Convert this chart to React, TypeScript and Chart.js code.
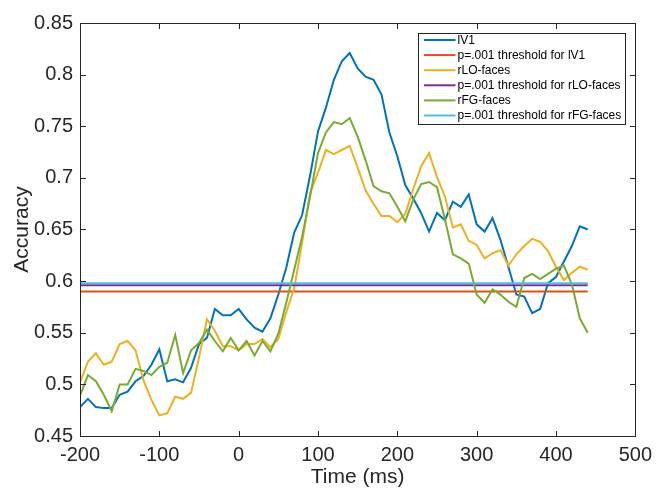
import React, { useEffect, useRef } from 'react';
import { Chart, registerables } from 'chart.js';

Chart.register(...registerables);

// Time (ms)
const times = [
  -200, -190, -180, -170, -160, -150, -140, -130, -120, -110,
  -100, -90, -80, -70, -60, -50, -40, -30, -20, -10,
  0, 10, 20, 30, 40, 50, 60, 70, 80, 90,
  100, 110, 120, 130, 140, 150, 160, 170, 180, 190,
  200, 210, 220, 230, 240, 250, 260, 270, 280, 290,
  300, 310, 320, 330, 340, 350, 360, 370, 380, 390,
  400, 410, 420, 430, 440,
];

const lV1 = [
  0.478, 0.486, 0.478, 0.477, 0.477, 0.490, 0.493, 0.503, 0.508, 0.519,
  0.534, 0.503, 0.505, 0.502, 0.516, 0.539, 0.545, 0.573, 0.567, 0.567,
  0.573, 0.563, 0.555, 0.551, 0.564, 0.587, 0.613, 0.647, 0.664, 0.702,
  0.745, 0.768, 0.795, 0.813, 0.821, 0.806, 0.798, 0.795, 0.781, 0.744,
  0.721, 0.693, 0.680, 0.666, 0.648, 0.666, 0.659, 0.677, 0.672, 0.684,
  0.655, 0.648, 0.661, 0.640, 0.614, 0.587, 0.585, 0.569, 0.573, 0.598,
  0.604, 0.619, 0.634, 0.653, 0.650,
];

const rLOfaces = [
  0.502, 0.522, 0.530, 0.519, 0.522, 0.539, 0.542, 0.533, 0.504, 0.485,
  0.470, 0.472, 0.488, 0.486, 0.492, 0.526, 0.563, 0.552, 0.537, 0.537,
  0.533, 0.539, 0.539, 0.544, 0.536, 0.544, 0.570, 0.593, 0.637, 0.685,
  0.705, 0.727, 0.723, 0.727, 0.731, 0.710, 0.688, 0.675, 0.663, 0.663,
  0.657, 0.665, 0.689, 0.711, 0.724, 0.701, 0.682, 0.652, 0.655, 0.639,
  0.635, 0.622, 0.627, 0.630, 0.615, 0.626, 0.634, 0.641, 0.638, 0.629,
  0.614, 0.601, 0.608, 0.614, 0.611,
];

const rFGfaces = [
  0.489, 0.509, 0.503, 0.490, 0.474, 0.500, 0.500, 0.515, 0.513, 0.509,
  0.517, 0.521, 0.548, 0.511, 0.533, 0.540, 0.553, 0.542, 0.532, 0.545,
  0.533, 0.542, 0.528, 0.542, 0.532, 0.549, 0.579, 0.611, 0.643, 0.682,
  0.724, 0.744, 0.754, 0.752, 0.758, 0.740, 0.717, 0.692, 0.687, 0.685,
  0.672, 0.658, 0.679, 0.694, 0.696, 0.691, 0.660, 0.626, 0.622, 0.617,
  0.587, 0.579, 0.592, 0.587, 0.580, 0.575, 0.603, 0.607, 0.602, 0.607,
  0.612, 0.615, 0.597, 0.564, 0.550,
];

const thresholdLV1 = 0.590;
const thresholdRLO = 0.596;
const thresholdRFG = 0.598;

const seriesLabels = [
  'lV1',
  'p=.001 threshold for lV1',
  'rLO-faces',
  'p=.001 threshold for rLO-faces',
  'rFG-faces',
  'p=.001 threshold for rFG-faces',
];
const seriesColors = ['#0072BD', '#D95319', '#EDB120', '#7E2F8E', '#77AC30', '#4DBEEE'];

const xMin = -200;
const xMax = 500;
const xStep = 100;
const yMin = 0.45;
const yMax = 0.85;
const yStep = 0.05;

const FONT = "'Liberation Sans', Arial, Helvetica, sans-serif";
const AXIS_COLOR = '#262626';

const curve = (vals: number[]) => times.map((t, i) => ({ x: t, y: vals[i] }));
const flat = (v: number) => [
  { x: times[0], y: v },
  { x: times[times.length - 1], y: v },
];

const framePlugin = {
  id: 'matlabFrame',
  afterDatasetsDraw(chart: any) {
    const { ctx, chartArea: a, scales } = chart;
    const xs = scales.x;
    const ys = scales.y;
    const L = Math.round(a.left) + 0.5;
    const R = Math.round(a.right) + 0.5;
    const T = Math.round(a.top) + 0.5;
    const B = Math.round(a.bottom) + 0.5;
    const tl = 5.5;
    ctx.save();
    ctx.strokeStyle = AXIS_COLOR;
    ctx.lineWidth = 1;
    ctx.strokeRect(L, T, R - L, B - T);
    ctx.beginPath();
    xs.ticks.forEach((t: any) => {
      const p = Math.round(xs.getPixelForValue(t.value)) + 0.5;
      ctx.moveTo(p, B);
      ctx.lineTo(p, B - tl);
      ctx.moveTo(p, T);
      ctx.lineTo(p, T + tl);
    });
    ys.ticks.forEach((t: any) => {
      const p = Math.round(ys.getPixelForValue(t.value)) + 0.5;
      ctx.moveTo(L, p);
      ctx.lineTo(L + tl, p);
      ctx.moveTo(R, p);
      ctx.lineTo(R - tl, p);
    });
    ctx.stroke();
    ctx.restore();
  },
};

const legendPlugin = {
  id: 'matlabLegend',
  afterDraw(chart: any) {
    const { ctx, chartArea: a } = chart;
    const ds = chart.data.datasets;
    ctx.save();
    ctx.font = `12px ${FONT}`;
    const lineStart = 5.5;
    const lineLen = 31.5;
    const gap = 2;
    const rowH = 15.1;
    const w = 207;
    const h = Math.round(rowH * ds.length + 0.5);
    const right = Math.round(a.right) - 10;
    const x0 = right - w + 0.5;
    const y0 = Math.round(a.top) + 10.5;
    ctx.fillStyle = '#ffffff';
    ctx.fillRect(x0, y0, w, h);
    ctx.strokeStyle = AXIS_COLOR;
    ctx.lineWidth = 1;
    ctx.strokeRect(x0, y0, w, h);
    ds.forEach((d: any, i: number) => {
      const cy = y0 + 6.5 + i * rowH;
      ctx.strokeStyle = d.borderColor;
      ctx.lineWidth = 2;
      ctx.beginPath();
      ctx.moveTo(x0 + lineStart, cy);
      ctx.lineTo(x0 + lineStart + lineLen, cy);
      ctx.stroke();
      ctx.fillStyle = '#000000';
      ctx.textBaseline = 'middle';
      ctx.textAlign = 'left';
      ctx.fillText(d.label, x0 + lineStart + lineLen + gap, cy + 0.5);
    });
    ctx.restore();
  },
};

export default function App() {
  const canvasRef = useRef<HTMLCanvasElement | null>(null);

  useEffect(() => {
    const canvas = canvasRef.current;
    if (!canvas) return;
    const values = [
      curve(lV1),
      flat(thresholdLV1),
      curve(rLOfaces),
      flat(thresholdRLO),
      curve(rFGfaces),
      flat(thresholdRFG),
    ];
    const chart = new Chart(canvas, {
      type: 'line',
      data: {
        datasets: values.map((data, i) => ({
          label: seriesLabels[i],
          data,
          borderColor: seriesColors[i],
          backgroundColor: seriesColors[i],
          borderWidth: 2,
          pointRadius: 0,
          pointHoverRadius: 0,
          tension: 0,
          fill: false,
          order: seriesLabels.length - i,
        })),
      },
      options: {
        animation: false,
        responsive: false,
        devicePixelRatio: 1,
        events: [],
        layout: { padding: { top: 23, right: 16, bottom: 0, left: 0 } },
        plugins: {
          legend: { display: false },
          tooltip: { enabled: false },
          title: { display: false },
        },
        scales: {
          x: {
            type: 'linear',
            min: xMin,
            max: xMax,
            afterFit: (s: any) => {
              s.height = 53;
            },
            ticks: {
              stepSize: xStep,
              padding: 7,
              color: AXIS_COLOR,
              font: { family: FONT, size: 20 },
              maxRotation: 0,
              autoSkip: false,
            },
            grid: { display: false, drawTicks: false },
            border: { display: false },
            title: {
              display: true,
              text: 'Time (ms)',
              color: AXIS_COLOR,
              font: { family: FONT, size: 21 },
              padding: { top: 0, bottom: -1 },
            },
          },
          y: {
            type: 'linear',
            min: yMin,
            max: yMax,
            afterFit: (s: any) => {
              s.width = 80;
            },
            ticks: {
              stepSize: yStep,
              padding: 7,
              color: AXIS_COLOR,
              font: { family: FONT, size: 20 },
              autoSkip: false,
              callback: (v: any) => String(Number(Number(v).toFixed(2))),
            },
            grid: { display: false, drawTicks: false },
            border: { display: false },
            title: {
              display: true,
              text: 'Accuracy',
              color: AXIS_COLOR,
              font: { family: FONT, size: 21 },
              padding: { top: 10, bottom: 0 },
            },
          },
        },
      },
      plugins: [framePlugin, legendPlugin],
    });
    return () => chart.destroy();
  }, []);

  return (
    <div style={{ position: 'fixed', left: 0, top: 0, width: 659, height: 489, background: '#ffffff' }}>
      <canvas ref={canvasRef} width={659} height={489} style={{ width: 659, height: 489, display: 'block' }} />
    </div>
  );
}
